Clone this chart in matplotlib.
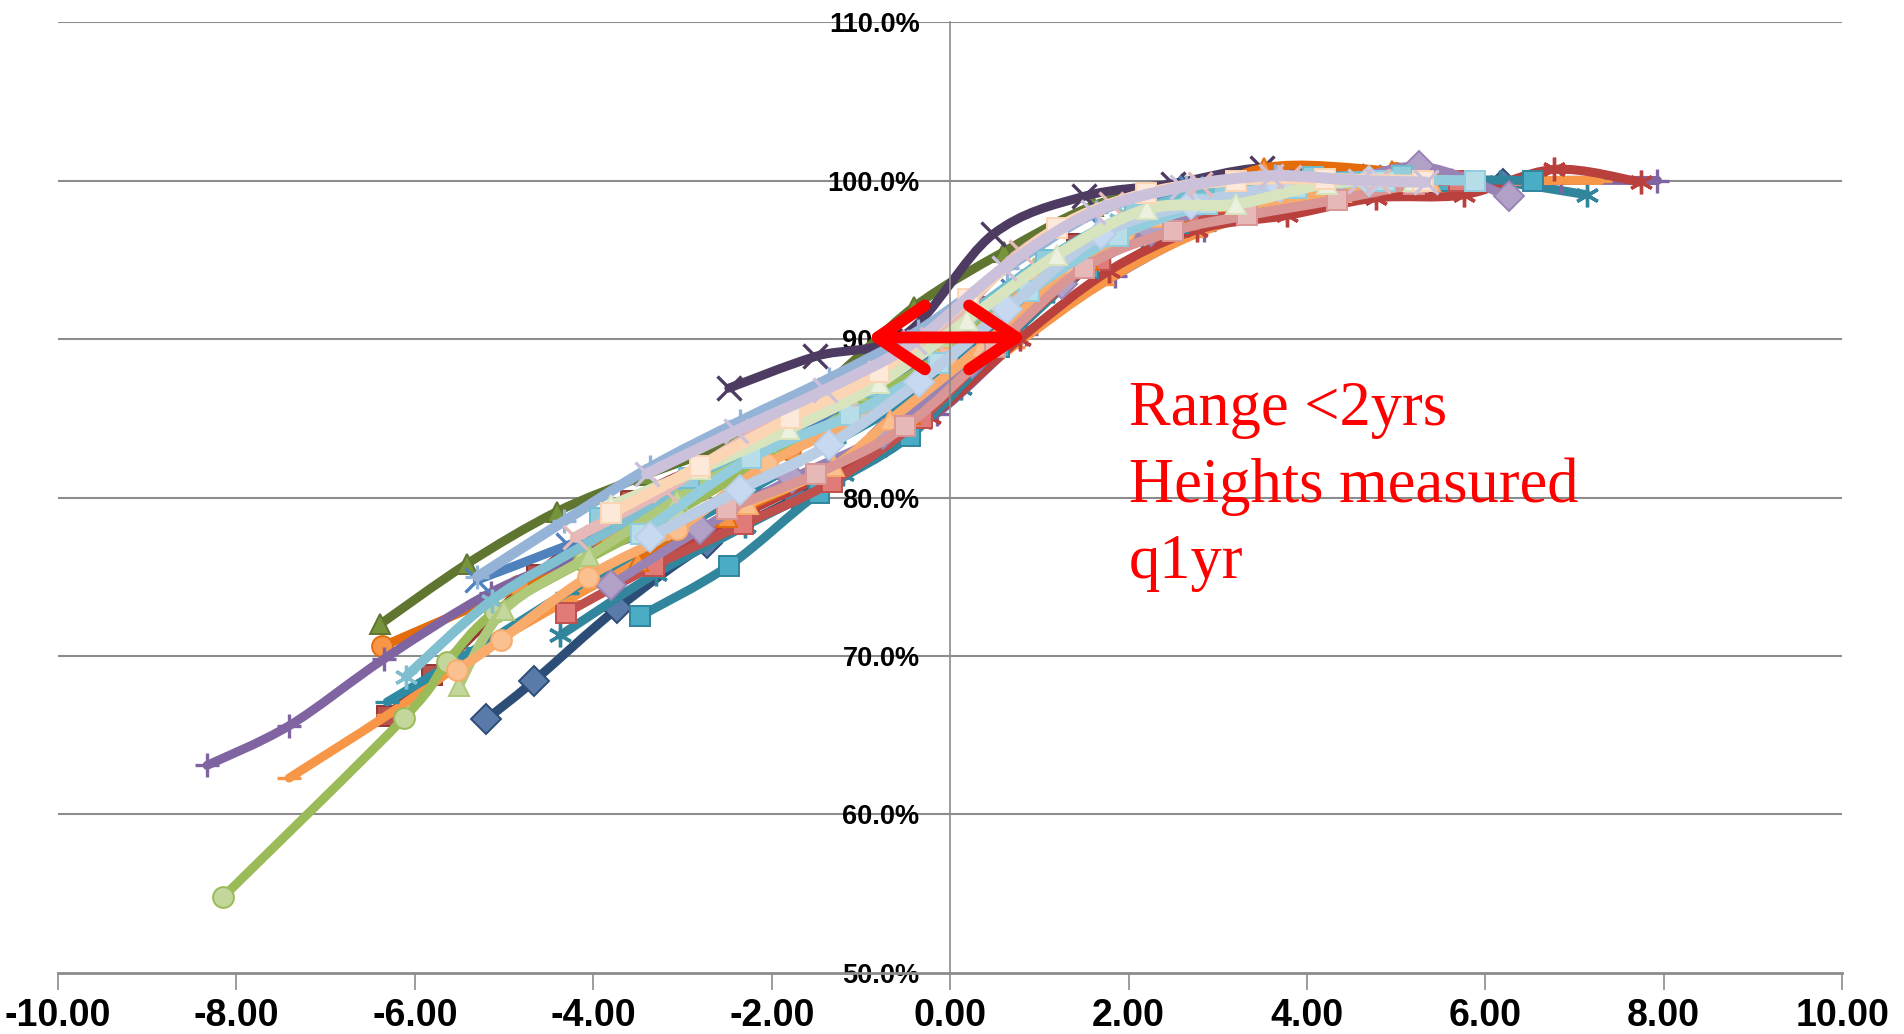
import numpy as np
import matplotlib
matplotlib.use("Agg")
import matplotlib.pyplot as plt
from matplotlib.path import Path
from matplotlib.patches import PathPatch, FancyArrowPatch

# years relative to reference point vs % of final height, one list pair per child
navy_x = [-5.2, -4.67, -3.73, -2.72, -1.72, -0.72, 0.28, 1.28, 2.28, 3.28, 4.28, 5.28, 6.2]
navy_y = [66.0, 68.4, 73.0, 77.1, 80.0, 83.5, 88.5, 93.8, 97.0, 98.8, 99.6, 100.3, 99.8]

darkred_x = [-6.31, -5.81, -4.63, -3.58, -2.58, -1.58, -0.58, 0.42, 1.42, 2.42, 3.42, 4.42, 5.42]
darkred_y = [66.2, 68.8, 75.1, 79.8, 82.5, 84.8, 87.8, 92.0, 96.0, 98.5, 99.7, 100.2, 100.0]

olive_x = [-6.39, -5.42, -4.41, -3.42, -2.42, -1.42, -0.41, 0.6, 1.6, 2.6, 3.6, 4.6]
olive_y = [72.0, 75.8, 79.1, 81.4, 83.6, 87.0, 92.0, 95.5, 98.4, 99.8, 100.3, 100.0]

plum_x = [-2.48, -1.51, -0.5, 0.48, 1.5, 2.5, 3.5, 4.5, 5.5]
plum_y = [86.9, 88.9, 90.3, 96.6, 99.0, 99.8, 100.8, 100.3, 100.0]

teal_ast_x = [-4.37, -3.3, -2.3, -1.2, 0.12, 1.15, 2.15, 3.15, 4.15, 5.15, 6.17, 7.14]
teal_ast_y = [71.3, 75.2, 78.2, 81.5, 86.9, 93.0, 96.5, 98.5, 99.6, 100.1, 99.9, 99.1]

orange_circ_x = [-6.37, -4.84, -3.81, -2.8, -1.8, -0.8, 0.2, 1.2, 2.2, 3.2, 4.2, 5.0]
orange_circ_y = [70.6, 74.4, 77.5, 80.5, 83.0, 85.5, 90.0, 94.5, 97.0, 98.8, 99.8, 100.5]

purple_x = [-8.33, -7.41, -6.35, -5.15, -4.15, -3.15, -2.15, -1.15, -0.15, 0.85, 1.85, 2.85,
            3.85, 4.85, 5.85, 6.85, 7.93]
purple_y = [63.1, 65.6, 69.8, 74.0, 76.3, 78.3, 80.2, 81.9, 85.3, 90.3, 94.0, 96.9,
            98.4, 99.4, 99.8, 100.0, 100.0]

orange_dash_x = [-7.41, -6.3, -5.3, -4.3, -3.3, -2.3, -1.3, -0.3, 0.7, 1.7, 2.7, 3.7, 4.7, 5.7, 6.7, 7.29]
orange_dash_y = [62.3, 66.3, 70.2, 73.5, 76.5, 79.3, 82.0, 85.3, 89.5, 93.5, 96.5, 98.3, 99.3, 99.8, 100.0, 100.0]

blue_x = [-5.3, -4.28, -3.3, -2.3, -1.3, -0.3, 0.7, 1.7, 2.7, 3.7, 4.7]
blue_y = [74.8, 77.0, 79.3, 82.5, 85.5, 88.8, 93.0, 97.0, 99.5, 100.3, 100.2]

red_sq_x = [-4.31, -3.32, -2.32, -1.32, -0.32, 0.68, 1.68, 2.68, 3.68, 4.68, 5.7]
red_sq_y = [72.7, 75.7, 78.3, 81.0, 85.0, 90.5, 95.0, 97.5, 98.8, 99.6, 100.0]

red_ast_x = [-3.2, -2.2, -1.2, -0.22, 0.78, 1.78, 2.77, 3.78, 4.77, 5.76, 6.77, 7.74]
red_ast_y = [76.5, 79.3, 82.0, 85.1, 90.0, 94.3, 96.9, 97.8, 98.9, 99.1, 100.7, 99.9]

teal_sq_x = [-3.48, -2.48, -1.47, -0.45, 0.55, 1.55, 2.55, 3.55, 4.55, 5.55, 6.53]
teal_sq_y = [72.5, 75.7, 80.3, 83.9, 89.5, 94.5, 97.3, 98.8, 99.5, 100.0, 100.0]

teal_dash_x = [-6.31, -5.3, -4.3, -3.3, -2.3, -1.3, -0.3, 0.7, 1.7, 2.7, 3.7, 4.7, 5.7]
teal_dash_y = [67.1, 70.5, 74.0, 77.2, 80.3, 83.5, 86.8, 91.5, 95.5, 98.0, 99.3, 100.0, 100.0]

green_circ_x = [-8.15, -6.12, -5.64, -5.1, -4.1, -3.1, -2.1, -1.1, -0.1, 0.9, 1.9, 2.9, 3.9, 4.9]
green_circ_y = [54.8, 66.1, 69.6, 72.8, 76.0, 79.0, 82.3, 85.5, 89.0, 93.5, 96.8, 98.6, 99.6, 100.0]

orange_tri_x = [-3.5, -2.5, -1.5, -0.45, 0.55, 1.55, 2.55, 3.52, 4.95, 5.9]
orange_tri_y = [76.0, 78.8, 81.5, 85.3, 90.5, 95.0, 98.0, 100.8, 100.6, 100.0]

lilac_x = [-3.8, -2.8, -1.77, -0.75, 0.25, 1.25, 2.25, 3.25, 4.25, 5.26, 6.26]
lilac_y = [74.5, 78.0, 81.2, 84.0, 88.5, 93.5, 96.8, 98.8, 99.6, 100.9, 99.0]

steel_x = [-5.3, -4.33, -3.36, -2.36, -1.36, -0.36, 0.64, 1.64, 2.64, 3.64, 4.64]
steel_y = [75.0, 78.5, 81.9, 84.8, 87.5, 90.5, 94.5, 98.0, 99.6, 100.3, 100.0]

sky_ast_x = [-6.1, -5.14, -4.1, -3.1, -2.1, -1.1, -0.1, 0.9, 1.9, 2.9, 3.9, 4.9]
sky_ast_y = [68.7, 73.5, 77.0, 80.2, 83.5, 86.5, 89.8, 94.0, 97.5, 99.3, 100.0, 100.0]

lgreen_tri_x = [-5.51, -5.0, -4.05, -3.06, -2.06, -1.06, -0.06, 0.94, 1.94, 2.94, 3.94, 4.94]
lgreen_tri_y = [68.1, 72.9, 76.3, 79.9, 83.5, 86.8, 90.0, 94.5, 97.5, 98.8, 99.3, 100.0]

peach_circ_x = [-5.53, -5.04, -4.06, -3.06, -2.05, -1.05, -0.05, 0.95, 1.95, 2.95, 3.95, 4.95]
peach_circ_y = [69.1, 71.0, 75.0, 78.0, 82.1, 85.0, 88.8, 93.5, 96.8, 98.7, 99.7, 100.0]

peach_tri_x = [-2.27, -1.3, -0.67, 0.35, 1.38, 2.38, 3.38, 4.38, 5.38]
peach_tri_y = [79.6, 82.0, 84.9, 89.5, 94.5, 97.7, 98.5, 99.3, 100.0]

salmon_sq_x = [-2.5, -1.5, -0.5, 0.5, 1.5, 2.5, 3.33, 4.34, 5.2]
salmon_sq_y = [79.3, 81.5, 84.5, 89.5, 94.5, 96.8, 97.8, 98.8, 99.8]

cyan_sq_x = [-3.93, -2.93, -1.93, -0.93, 0.07, 1.07, 2.07, 3.07, 4.07, 5.07]
cyan_sq_y = [78.7, 81.2, 84.0, 87.0, 91.0, 95.0, 98.0, 99.5, 100.2, 100.3]

pcyan_sq_x = [-3.47, -2.23, -1.12, -0.12, 0.88, 1.88, 2.88, 3.88, 4.88, 5.88]
pcyan_sq_y = [77.7, 82.5, 85.2, 88.5, 93.0, 96.5, 98.5, 99.5, 100.0, 100.0]

pblue_dia_x = [-3.36, -2.36, -1.36, -0.35, 0.64, 1.69, 2.7, 3.7, 4.7]
pblue_dia_y = [77.5, 80.5, 83.3, 87.3, 91.9, 96.6, 98.5, 99.6, 100.0]

pink_x_x = [-4.2, -3.2, -2.2, -1.2, -0.2, 0.8, 1.8, 2.8, 3.8, 4.8]
pink_x_y = [77.5, 80.5, 84.0, 86.5, 90.0, 95.5, 98.5, 99.8, 100.2, 100.0]

pgreen_tri_x = [-3.8, -2.8, -1.81, -0.8, 0.19, 1.2, 2.21, 3.2, 4.22, 5.2]
pgreen_tri_y = [79.5, 81.8, 84.3, 87.2, 91.2, 95.3, 98.2, 98.5, 99.8, 100.0]

pearl_sq_x = [-3.8, -2.8, -1.8, -0.8, 0.2, 1.2, 2.2, 3.2, 4.2, 5.3]
pearl_sq_y = [79.0, 82.0, 85.0, 87.9, 92.5, 97.0, 99.2, 100.0, 100.1, 100.0]

lav_x_x = [-3.4, -2.4, -1.4, -0.4, 0.6, 1.6, 2.6, 3.6, 4.6, 5.33]
lav_x_y = [81.5, 84.2, 86.8, 89.8, 94.5, 98.0, 99.6, 100.3, 100.0, 99.9]

y_ticks = [50, 60, 70, 80, 90, 100, 110]
x_ticks = [-10, -8, -6, -4, -2, 0, 2, 4, 6, 8, 10]
note_lines = ["Range <2yrs", "Heights measured", "q1yr"]

ASTER = (6, 2, 0)

# (x, y, line colour, marker, marker face, line width) in drawing order
series = [
    (navy_x, navy_y, "#2C4D75", "D", "#5A7BAA", 6.5),
    (darkred_x, darkred_y, "#943634", "s", "#B85450", 6.5),
    (olive_x, olive_y, "#5F7530", "^", "#77933C", 6.5),
    (plum_x, plum_y, "#4D3B62", "x", "#4D3B62", 6.5),
    (teal_ast_x, teal_ast_y, "#31859C", ASTER, "#31859C", 6.5),
    (orange_circ_x, orange_circ_y, "#E46C0A", "o", "#F79646", 6.5),
    (purple_x, purple_y, "#8064A2", "+", "#8064A2", 6.5),
    (orange_dash_x, orange_dash_y, "#F79646", "_", "#F79646", 6.5),
    (red_ast_x, red_ast_y, "#B9403D", ASTER, "#B9403D", 6.5),
    (teal_sq_x, teal_sq_y, "#31859C", "s", "#4BACC6", 6.5),
    (teal_dash_x, teal_dash_y, "#2E8BA3", "_", "#4BACC6", 6.5),
    (blue_x, blue_y, "#4F81BD", "x", "#4F81BD", 6.5),
    (red_sq_x, red_sq_y, "#C0504D", "s", "#E07B78", 6.5),
    (green_circ_x, green_circ_y, "#9BBB59", "o", "#C3D69B", 6.5),
    (orange_tri_x, orange_tri_y, "#E46C0A", "^", "#F79646", 6.5),
    (lilac_x, lilac_y, "#9983B5", "D", "#B2A1C7", 6.5),
    (steel_x, steel_y, "#95B3D7", "+", "#95B3D7", 7.5),
    (sky_ast_x, sky_ast_y, "#7FBFD0", ASTER, "#93CDDD", 7.0),
    (lgreen_tri_x, lgreen_tri_y, "#AFC97A", "^", "#C3D69B", 7.0),
    (peach_circ_x, peach_circ_y, "#F9AB6B", "o", "#FAC090", 7.0),
    (peach_tri_x, peach_tri_y, "#F9AB6B", "^", "#FAC090", 7.0),
    (salmon_sq_x, salmon_sq_y, "#D99694", "s", "#E6B9B8", 7.0),
    (cyan_sq_x, cyan_sq_y, "#6FBDD1", "s", "#93CDDD", 7.0),
    (pcyan_sq_x, pcyan_sq_y, "#93CDDD", "s", "#B7DEE8", 7.5),
    (pblue_dia_x, pblue_dia_y, "#B9CDE5", "D", "#C6D9F1", 8.0),
    (pink_x_x, pink_x_y, "#E6B9B8", "x", "#E6B9B8", 8.0),
    (pgreen_tri_x, pgreen_tri_y, "#D7E4BD", "^", "#EBF1DE", 8.0),
    (pearl_sq_x, pearl_sq_y, "#FCD5B4", "s", "#FDE9D9", 8.0),
    (lav_x_x, lav_x_y, "#CCC1DA", "x", "#CCC1DA", 8.0),
]


def smooth_path(xs, ys):
    # Catmull-Rom style bezier through the points, like Excel's smoothed lines
    pts = np.column_stack([xs, ys]).astype(float)
    n = len(pts)
    verts = [pts[0]]
    codes = [Path.MOVETO]
    for i in range(n - 1):
        p0 = pts[i - 1] if i > 0 else pts[i]
        p1, p2 = pts[i], pts[i + 1]
        p3 = pts[i + 2] if i + 2 < n else pts[i + 1]
        verts += [p1 + (p2 - p0) / 6, p2 - (p3 - p1) / 6, p2]
        codes += [Path.CURVE4] * 3
    return Path(verts, codes)


fig = plt.figure(figsize=(19.04, 10.34), dpi=100)
ax = fig.add_axes([0.0305, 0.059, 0.937, 0.9197])
ax.set_xlim(-10, 10)
ax.set_ylim(50, 110)

for v in y_ticks[1:]:
    ax.axhline(v, color="#8C8C8C", lw=1.5, zorder=0)

for k, (xs, ys, col, mk, face, lw) in enumerate(series):
    z = 2 + k * 0.01
    ax.add_patch(PathPatch(smooth_path(xs, ys), fill=False, edgecolor=col, lw=lw,
                           capstyle="round", joinstyle="round", zorder=z))
    line_mk = mk in ("x", "+", "_") or isinstance(mk, tuple)
    ax.plot(xs, ys, linestyle="none", marker=mk, ms=17 if line_mk else 15,
            mfc=face, mec=col, mew=2.4 if line_mk else 1.4, zorder=z + 0.005)

# axes styling
for side in ("top", "right"):
    ax.spines[side].set_visible(False)
ax.spines["left"].set_position(("data", 0))
ax.spines["left"].set_color("#8C8C8C")
ax.spines["left"].set_linewidth(1.2)
ax.spines["bottom"].set_color("#8C8C8C")
ax.spines["bottom"].set_linewidth(2)

ax.set_xticks(x_ticks)
ax.set_xticklabels([f"{v:.2f}" for v in x_ticks])
ax.set_yticks(y_ticks)
ax.set_yticklabels([f"{v:.1f}%" for v in y_ticks])
ax.tick_params(axis="x", length=12, width=1.2, color="#8C8C8C", pad=6)
ax.tick_params(axis="y", length=0, pad=22)
for lab in ax.get_xticklabels():
    lab.set_fontfamily("Liberation Sans")
    lab.set_fontweight("bold")
    lab.set_fontsize(27)
for lab in ax.get_yticklabels():
    lab.set_fontfamily("Liberation Sans")
    lab.set_fontweight("bold")
    lab.set_fontsize(19.5)

# red range arrow at 90 %
arrow = FancyArrowPatch((-0.93, 90.1), (0.86, 90.1),
                        arrowstyle="<->,head_length=1.7,head_width=1.15",
                        mutation_scale=20, lw=8.5, color="red",
                        shrinkA=0, shrinkB=0,
                        capstyle="round", joinstyle="round", zorder=10)
ax.add_patch(arrow)

# one text per line, placed on its baseline
for line, base in zip(note_lines, [84.56, 79.73, 74.9]):
    ax.text(2.0, base, line, color="red", fontsize=45,
            family="Liberation Serif", va="baseline", ha="left", zorder=11)

fig.savefig("out.png", dpi=100)
